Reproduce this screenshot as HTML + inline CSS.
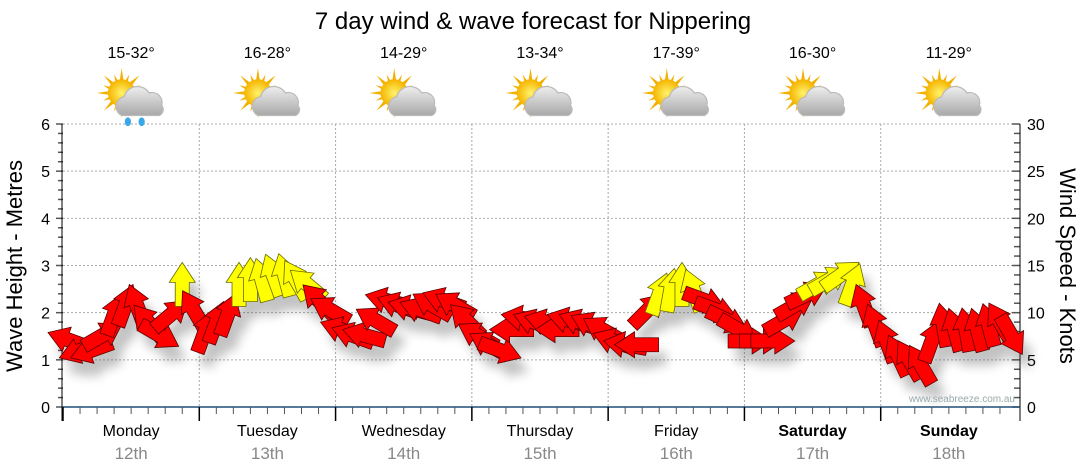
<!DOCTYPE html>
<html><head><meta charset="utf-8"><style>
html,body{margin:0;padding:0;background:#fff;}
svg{display:block;font-family:"Liberation Sans",sans-serif;}
</style></head><body>
<svg id="chart" width="1080" height="475" viewBox="0 0 1080 475" xmlns="http://www.w3.org/2000/svg">
<defs>
<filter id="sh" x="-50%" y="-50%" width="200%" height="200%"><feGaussianBlur stdDeviation="5"/></filter>
<radialGradient id="sun" cx="0.5" cy="0.5" r="0.5"><stop offset="0" stop-color="#fff36a"/><stop offset="1" stop-color="#f5b400"/></radialGradient>
<linearGradient id="cloud" x1="0" y1="0" x2="0" y2="1"><stop offset="0" stop-color="#eee"/><stop offset="1" stop-color="#a8a8a8"/></linearGradient>
</defs>
<text x="533" y="29" font-size="24" text-anchor="middle" fill="#000">7 day wind &amp; wave forecast for Nippering</text>
<g id="grid"></g>
<g id="axes"></g>
<g id="shadows" filter="url(#sh)" opacity="0.35"></g>
<g id="arrows"></g>
<g id="topg"></g>
<text transform="translate(22,266) rotate(-90)" font-size="22" text-anchor="middle">Wave Height - Metres</text>
<text transform="translate(1060,266) rotate(90)" font-size="22" text-anchor="middle">Wind Speed - Knots</text>
<text x="1015" y="402" font-size="10" fill="#9aa" text-anchor="end">www.seabreeze.com.au</text>
</svg>
<script>
const days = ["Monday","Tuesday","Wednesday","Thursday","Friday","Saturday","Sunday"];
const dates = ["12th","13th","14th","15th","16th","17th","18th"];
const temps = ["15-32°","16-28°","14-29°","13-34°","17-39°","16-30°","11-29°"];
const rainy = [true,false,false,false,false,false,false];
const waveTicks = [0,1,2,3,4,5,6];
const windTicks = [0,5,10,15,20,25,30];
// wind speed (knots), 2-hourly, 12 per day
const windSpeed = [
7.1,6,6,7.6,9.8,10.8,10.8,9,7.6,9.8,13,10.3,
8,9,9.8,13,13.5,13.5,14,14,13.5,13,11.3,10.3,
8.2,7.6,7.6,9.2,11.3,10.8,10.5,10.3,10.8,11.3,10.8,9.2,
7.6,6.6,6,8.2,9.4,9,9,8.2,9.2,9,8.7,8.2,
7,6.6,6.6,10.3,12,12.4,13,12.4,11.3,10.3,9.2,8.2,
7,7,7,9.2,10.8,11.9,13,13.5,14,13,10.8,8.7,
7,5.5,5,4.5,7,8.7,8.2,8.2,8.2,8.7,9,7.6];
// direction arrow points to (degrees clockwise from up)
const windDir = [
290,250,250,60,20,20,340,320,120,50,0,330,
20,20,20,0,0,345,340,345,330,310,315,300,
290,290,285,300,285,290,285,290,300,290,300,315,
300,300,110,270,280,290,285,270,285,290,295,300,
290,280,270,45,20,10,0,340,110,110,115,120,
90,90,90,60,60,65,60,60,55,20,340,340,
340,335,330,330,20,350,345,350,345,345,330,150];

const X0=63,X1=1017,Y0=407,Y1=124;
const dayW=(X1-X0)/7;
const yWave=v=>Y0-(v/6)*(Y0-Y1);
const yWind=v=>Y0-(v/30)*(Y0-Y1);
const xSlot=i=>X0+(i+0.5)*dayW/12;
const NS="http://www.w3.org/2000/svg";
function mk(tag,attrs,parent,text){const e=document.createElementNS(NS,tag);for(const k in attrs)e.setAttribute(k,attrs[k]);if(text!==undefined)e.textContent=text;parent.appendChild(e);return e;}
const gridG=document.getElementById('grid'),axesG=document.getElementById('axes'),topG=document.getElementById('topg');

waveTicks.forEach(v=>{
  if(v>0){const g=mk('line',{x1:X0,x2:X1,y1:yWave(v),y2:yWave(v),stroke:'#aaa','stroke-dasharray':'2,2'},gridG);
  
  }
  const t=mk('text',{x:50,y:yWave(v)+6,'font-size':16,'text-anchor':'end'},axesG,String(v));
  
  
});
for(let v=0;v<=6.001;v+=0.2){const y=yWave(v);const major=Math.abs(v-Math.round(v))<0.01;mk('line',{x1:major?56:58,x2:63,y1:y,y2:y,stroke:'#555','stroke-width':1.5},axesG);}
windTicks.forEach(v=>{
  const t=mk('text',{x:1027,y:yWind(v)+6,'font-size':16},axesG,String(v));
  
  
});
for(let v=0;v<=30;v++){const y=yWind(v);mk('line',{x1:v%5?1014:1012,x2:1020,y1:y,y2:y,stroke:'#555','stroke-width':1.5},axesG);}
mk('line',{x1:62,x2:62,y1:Y1,y2:Y0+14,stroke:'#000'},axesG);
mk('line',{x1:1020,x2:1020,y1:Y1,y2:Y0+14,stroke:'#000'},axesG);
const xl=mk('line',{x1:62,x2:1020,y1:Y0,y2:Y0,stroke:'#1f4e79','stroke-width':1.5},axesG);



days.forEach((d,i)=>{
  const xs=X0+i*dayW, xc=xs+dayW/2;
  if(i>0){const g=mk('line',{x1:xs,x2:xs,y1:Y1,y2:Y0,stroke:'#aaa','stroke-dasharray':'2,2'},gridG);
  
  }
  mk('line',{x1:xs,x2:xs,y1:Y0,y2:Y0+14,stroke:'#000','stroke-width':1.5},axesG);
  for(let k=1;k<8;k++){const x=xs+k*dayW/8;mk('line',{x1:x,x2:x,y1:Y0,y2:Y0+7,stroke:'#555'},axesG);}
  const dl=mk('text',{x:xc,y:436,'font-size':16,'text-anchor':'middle','font-weight':i>=5?'bold':'normal'},axesG,d);
  
  
  const dt=mk('text',{x:xc,y:459,'font-size':17,'text-anchor':'middle',fill:'#888'},axesG,dates[i]);
  
  
  const tt=mk('text',{x:xc,y:58,'font-size':16,'text-anchor':'middle'},topG,temps[i]);
  
  
  const ic=mk('g',{transform:`translate(${xc-2},98) scale(1.25)`},topG);
  
  
  for(let r=0;r<16;r++){const a=r*22.5;const L=r%2?16:20;mk('polygon',{points:`-3,0 3,0 0,-${L}`,fill:'#f3b000',transform:`translate(-6,-4) rotate(${a})`},ic);}
  mk('circle',{cx:-6,cy:-4,r:11,fill:'url(#sun)'},ic);
  mk('path',{d:'M-6,14 a8,8 0 0 1 2,-15 a11,11 0 0 1 20,-3 a8,8 0 0 1 10,10 a5,5 0 0 1 -2,8 z',fill:'url(#cloud)',stroke:'#bbb'},ic);
  if(rainy[i]){mk('ellipse',{cx:-1,cy:19,rx:2.5,ry:3.5,fill:'#3aa8e8'},ic);mk('ellipse',{cx:10,cy:19,rx:2.5,ry:3.5,fill:'#3aa8e8'},ic);}
});

const shadowsG=document.getElementById('shadows'),arrowsG=document.getElementById('arrows');
const shape="M0,-22 L13,-2 L7,-2 L7,22 L-7,22 L-7,-2 L-13,-2 Z";
windSpeed.forEach((k,i)=>{
  const x=xSlot(i), y=yWind(k), a=windDir[i];
  mk('path',{d:shape,fill:'#555',transform:`translate(${x+8},${y+14}) rotate(${a})`},shadowsG);
  const p=mk('path',{d:shape,fill:k>=12?'#ffff00':'#ff0000',stroke:k>=12?'#6b6b00':'#5a0000','stroke-width':0.8,transform:`translate(${x},${y}) rotate(${a})`},arrowsG);
  
  
});
</script>
</body></html>
